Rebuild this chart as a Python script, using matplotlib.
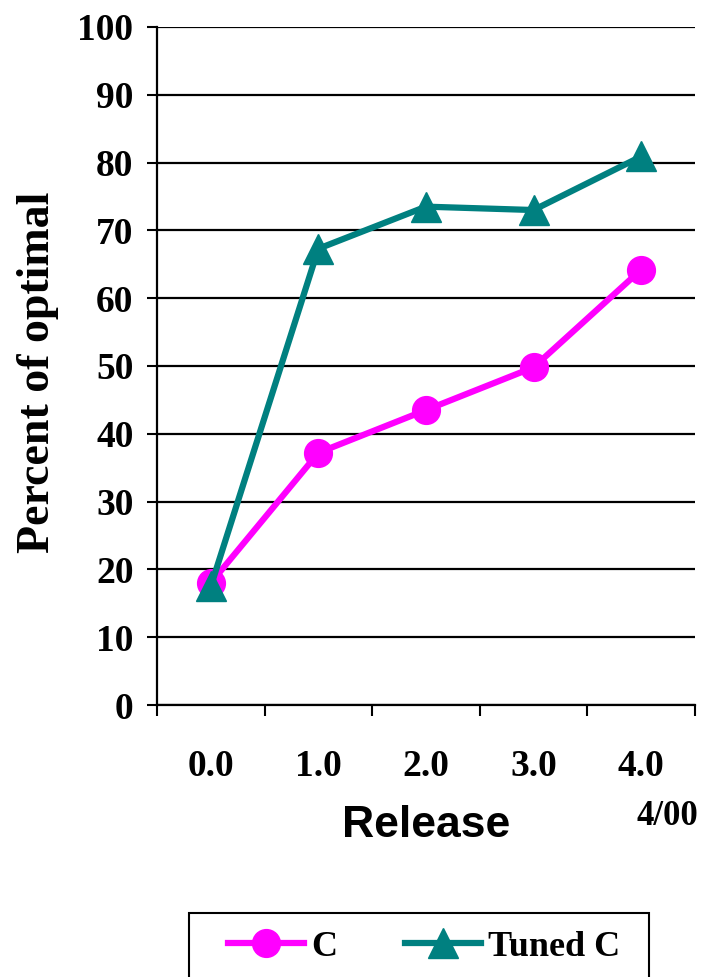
import matplotlib.pyplot as plt
from matplotlib.patches import Rectangle
import numpy as np

# data
releases = ["0.0", "1.0", "2.0", "3.0", "4.0"]
c_vals = [18, 37.2, 43.5, 49.8, 64.2]
tuned_vals = [17.5, 67.3, 73.5, 73, 80.9]

serif = "Liberation Serif"
sans = "Liberation Sans"

fig = plt.figure(figsize=(7.05, 9.77), dpi=100)
ax = fig.add_axes([0.2227, 0.2784, 0.763, 0.694])

x = np.arange(len(releases))
ax.plot(x, c_vals, color="#ff00ff", lw=4.5, marker="o", ms=20, label="C", zorder=3)
ax.plot(x, tuned_vals, color="#008080", lw=4.5, marker="^", ms=21, label="Tuned C", zorder=4)

ax.set_xlim(-0.5, len(releases) - 0.5)
ax.set_ylim(0, 100)

# y axis
ax.set_yticks(np.arange(0, 101, 10))
ax.yaxis.grid(True, color="black", lw=1.6)
ax.set_axisbelow(True)
ax.tick_params(axis="y", direction="out", length=7, width=1.5, pad=10)
for lab in ax.get_yticklabels():
    lab.set_fontfamily(serif)
    lab.set_fontweight("bold")
    lab.set_fontsize(27)

# x axis: ticks at boundaries, labels at category centres
ax.set_xticks(np.arange(-0.5, len(releases), 1.0))
ax.set_xticklabels([])
ax.set_xticks(x, minor=True)
ax.set_xticklabels(releases, minor=True, fontfamily=serif, fontweight="bold", fontsize=27)
ax.tick_params(axis="x", which="major", direction="out", length=8, width=1.5)
ax.tick_params(axis="x", which="minor", length=0, pad=32)

for s in ["top", "right"]:
    ax.spines[s].set_visible(False)
ax.spines["left"].set_linewidth(1.6)
ax.spines["bottom"].set_linewidth(1.6)

ax.text(-0.222, 0.49, "Percent of optimal", transform=ax.transAxes, rotation=90,
        ha="center", va="center", fontfamily=serif, fontweight="bold", fontsize=33)
ax.text(0.5, -0.177, "Release", transform=ax.transAxes, ha="center", va="center",
        fontfamily=sans, fontweight="bold", fontsize=32)
ax.text(0.948, -0.165, "4/00", transform=ax.transAxes, ha="center", va="center",
        fontfamily=serif, fontweight="bold", fontsize=25)

# legend box runs off the bottom of the figure, like the original slide
fig.patches.append(Rectangle((0.268, -0.05), 0.652, 0.1155, transform=fig.transFigure,
                             fill=False, edgecolor="black", lw=1.5))
leg = ax.legend(loc="center left", bbox_to_anchor=(0.323, 0.0307), bbox_transform=fig.transFigure,
                borderaxespad=0, borderpad=0, ncol=2, frameon=False, numpoints=1,
                handlelength=2.1, handletextpad=0.2, columnspacing=1.9,
                prop={"family": serif, "weight": "bold", "size": 26})

fig.savefig("out.png", dpi=100)
